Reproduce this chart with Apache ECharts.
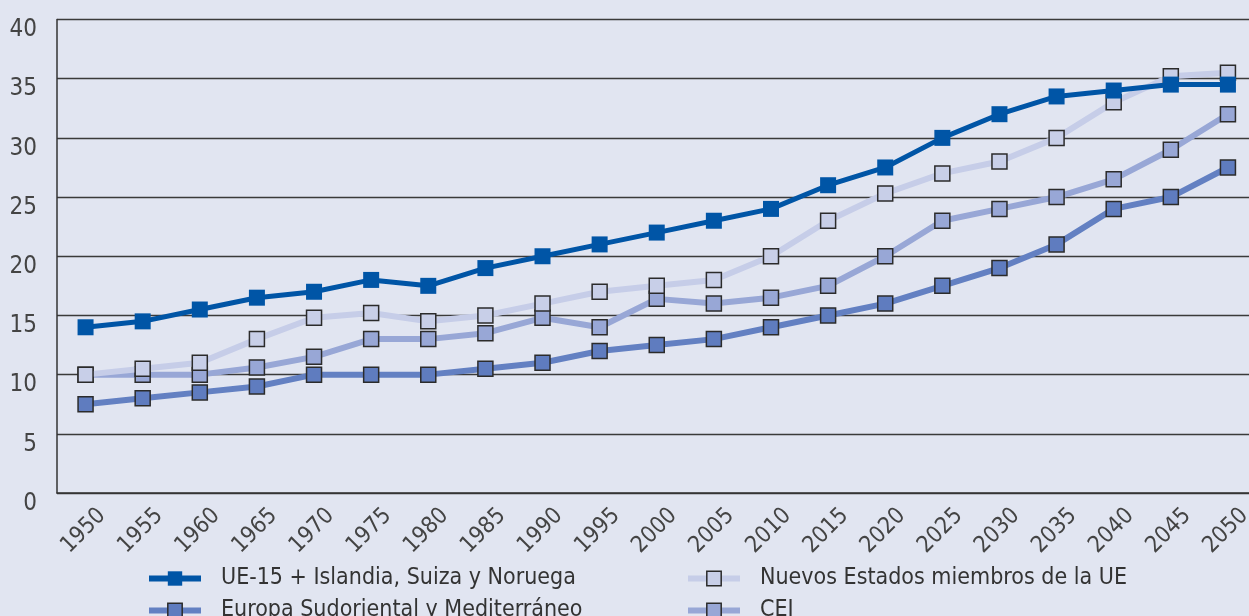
<!DOCTYPE html>
<html>
<head>
<meta charset="utf-8">
<script src="https://cdn.jsdelivr.net/npm/echarts@6/dist/echarts.min.js"></script>
<style>
html,body{margin:0;padding:0;background:#e1e5f1;}
#c{width:1249px;height:616px;}
</style>
</head>
<body>
<div id="c"></div>
<script>
var years = ['1950','1955','1960','1965','1970','1975','1980','1985','1990','1995','2000','2005','2010','2015','2020','2025','2030','2035','2040','2045','2050'];
var ue15 = [14,14.5,15.5,16.5,17,18,17.5,19,20,21,22,23,24,26,27.5,30,32,33.5,34,34.5,34.5];
var nuevos = [10,10.5,11,13,14.8,15.2,14.5,15,16,17,17.5,18,20,23,25.3,27,28,30,33,35.2,35.5];
var europaSud = [7.5,8,8.5,9,10,10,10,10.5,11,12,12.5,13,14,15,16,17.5,19,21,24,25,27.5];
var cei = [10,10,10,10.6,11.5,13,13,13.5,14.8,14,16.4,16,16.5,17.5,20,23,24,25,26.5,29,32];
var yTicks = [0,5,10,15,20,25,30,35,40];

var names = {
  ue: 'UE-15 + Islandia, Suiza y Noruega',
  nu: 'Nuevos Estados miembros de la UE',
  eu: 'Europa Sudoriental y Mediterráneo',
  cei: 'CEI'
};
var FONT = '"DejaVu Sans Condensed","Liberation Sans",sans-serif';

var chart = echarts.init(document.getElementById('c'));
function lineSeries(name, data, lineColor, fill, border, lw, size, z) {
  return {
    name: name, type: 'line', data: data, z: z,
    symbol: 'rect', symbolSize: size,
    lineStyle: {color: lineColor, width: lw},
    itemStyle: {color: fill, borderColor: border, borderWidth: border === 'none' ? 0 : 1.5},
    emphasis: {disabled: true}
  };
}
var ueS = lineSeries(names.ue, ue15, '#0055a6', '#0055a6', 'none', 5, 16, 5);
ueS.itemStyle.borderWidth = 0;
var legendText = {fontFamily: FONT, fontSize: 23, color: '#333', lineHeight: 31, padding: [0, 0, 0, 15]};
function legendCfg(data, left) {
  return {
    data: data, orient: 'vertical', left: left, top: 563, height: 120,
    itemWidth: 52, itemHeight: 18, itemGap: 1, padding: 0,
    lineStyle: {width: 6},
    itemStyle: {borderWidth: 1.5},
    textStyle: legendText
  };
}
var option = {
  backgroundColor: '#e1e5f1',
  animation: false,
  grid: {left: 57, top: 19.5, right: -7.5, bottom: 123, containLabel: false, outerBoundsMode: 'none'},
  xAxis: {
    type: 'category', data: years, boundaryGap: true,
    axisLine: {lineStyle: {color: '#333', width: 1.5}},
    axisTick: {inside: true, length: 10, lineStyle: {color: '#333', width: 1.2}},
    axisLabel: {
      rotate: 45, margin: -3, interval: 0,
      fontFamily: FONT, fontSize: 23, color: '#444',
      verticalAlign: 'top', padding: [16, 4, 0, 0]
    }
  },
  yAxis: {
    type: 'value', min: yTicks[0], max: yTicks[yTicks.length - 1], interval: 5,
    axisLine: {show: true, lineStyle: {color: '#333', width: 1.5}},
    axisTick: {show: false},
    splitLine: {lineStyle: {color: '#3a3a3a', width: 1.3}},
    axisLabel: {
      margin: 20, fontFamily: FONT, fontSize: 24, color: '#444',
      lineHeight: 21,
      formatter: function (v) { return '\n' + v; }
    }
  },
  legend: [
    legendCfg([names.ue, names.eu], 146),
    legendCfg([names.nu, names.cei], 685)
  ],
  series: [
    lineSeries(names.cei, cei, '#98a7d6', '#98a7d6', '#2b2b2b', 6, 15, 2),
    lineSeries(names.eu, europaSud, '#6380c2', '#5f7cbf', '#2b2b2b', 6, 15, 3),
    lineSeries(names.nu, nuevos, '#c6cde8', '#c8cfe8', '#2b2b2b', 6, 15, 4),
    ueS
  ]
};
chart.setOption(option);
</script>
</body>
</html>
